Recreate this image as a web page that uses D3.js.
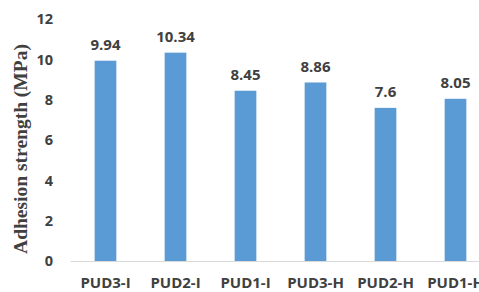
<!DOCTYPE html>
<html lang="en">
<head>
    <meta charset="UTF-8">
    <title>Adhesion strength</title>
    <script src="https://d3js.org/d3.v7.min.js"></script>
    <style>
        body { margin: 0; background: #ffffff; }
        .tick, .x-label, .val { font-family: 'Open Sans', sans-serif; font-weight: 700; fill: #404040; }
        .y-title { font-family: 'Liberation Serif', serif; font-weight: 700; fill: #404040; }
    </style>
</head>
<body>
    <div id="chart"></div>
    <script>
        // Data
        const categories = ["PUD3-I", "PUD2-I", "PUD1-I", "PUD3-H", "PUD2-H", "PUD1-H"];
        const strength = [9.94, 10.34, 8.45, 8.86, 7.6, 8.05];
        const valueLabels = ["9.94", "10.34", "8.45", "8.86", "7.6", "8.05"];
        const yTicks = [0, 2, 4, 6, 8, 10, 12];

        const W = 479, H = 292;
        const svg = d3.select("#chart").append("svg")
            .attr("width", W).attr("height", H);

        // plot area runs past the right edge (cropped in the source)
        const x = d3.scaleBand()
            .domain(categories)
            .range([70.5, 490.5])
            .paddingInner(0.69)
            .paddingOuter(0.345);

        const y = d3.scaleLinear()
            .domain([0, 12])
            .range([261, 19.2]);

        // y tick labels (no axis line)
        svg.append("g").selectAll("text")
            .data(yTicks)
            .join("text")
            .attr("class", "tick")
            .attr("x", 53)
            .attr("y", d => y(d))
            .attr("dy", "0.36em")
            .attr("text-anchor", "end")
            .style("font-size", "14.5px")
            .text(d => d);

        // bars
        svg.append("g").selectAll("rect")
            .data(strength)
            .join("rect")
            .attr("x", (d, i) => x(categories[i]))
            .attr("width", x.bandwidth())
            .attr("y", d => y(d))
            .attr("height", d => y(0) - y(d))
            .attr("fill", "#5b9bd5");

        // baseline
        svg.append("line")
            .attr("x1", 70.5).attr("x2", W)
            .attr("y1", y(0) + 0.5).attr("y2", y(0) + 0.5)
            .attr("stroke", "#d9d9d9")
            .attr("stroke-width", 1);

        // value labels
        svg.append("g").selectAll("text")
            .data(strength)
            .join("text")
            .attr("class", "val")
            .attr("x", (d, i) => x(categories[i]) + x.bandwidth() / 2)
            .attr("y", d => y(d) - 10.5)
            .attr("text-anchor", "middle")
            .style("font-size", "15px")
            .text((d, i) => valueLabels[i]);

        // category labels
        svg.append("g").selectAll("text")
            .data(categories)
            .join("text")
            .attr("class", "x-label")
            .attr("x", d => x(d) + x.bandwidth() / 2)
            .attr("y", 288)
            .attr("text-anchor", "middle")
            .style("font-size", "15px")
            .text(d => d);

        // y axis title
        svg.append("text")
            .attr("class", "y-title")
            .attr("transform", `translate(27,149) rotate(-90)`)
            .attr("text-anchor", "middle")
            .style("font-size", "19.5px")
            .text("Adhesion strength (MPa)");
    </script>
</body>
</html>
